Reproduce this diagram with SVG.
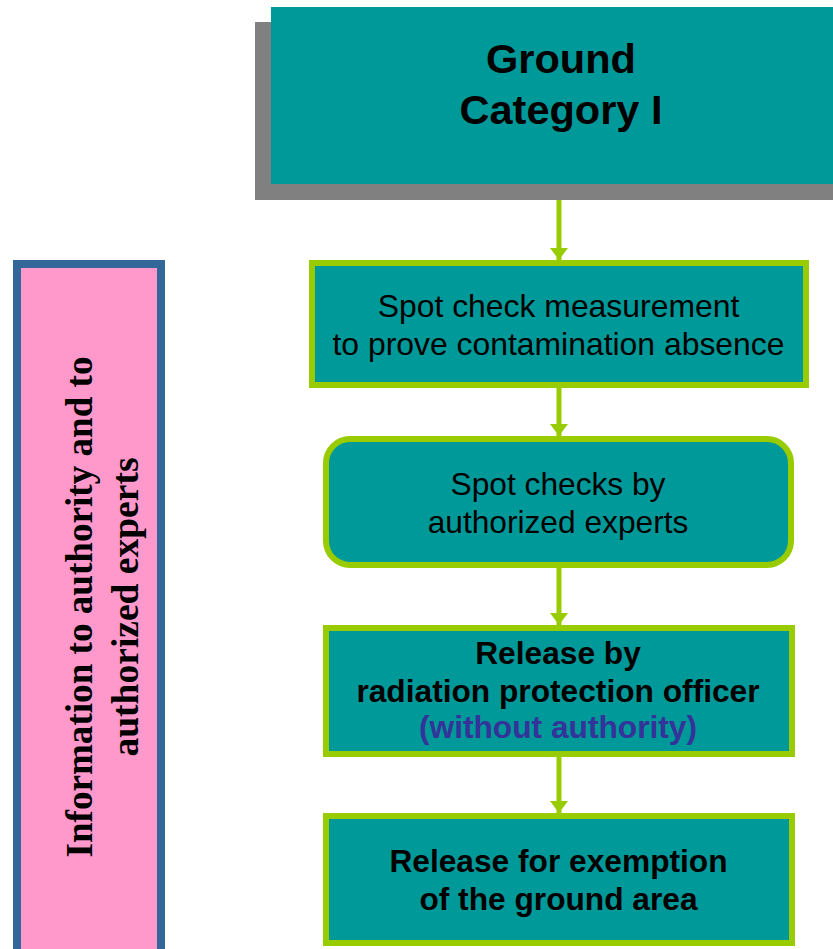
<svg xmlns="http://www.w3.org/2000/svg" width="833" height="949" viewBox="0 0 833 949">
<defs>
<style>
.box{fill:#009999;stroke:#99CC00;stroke-width:6}
.t{font-family:"Liberation Sans",Arial,sans-serif;font-size:31.7px;fill:#000;text-anchor:middle}
.b{font-weight:bold}
.conn{stroke:#99CC00;stroke-width:5;fill:none}
.side{font-family:"Liberation Serif","Times New Roman",serif;font-weight:bold;font-size:38px;fill:#000;text-anchor:middle}
</style>
<marker id="ah" viewBox="0 0 12 18" refX="12" refY="9" markerWidth="12" markerHeight="18" markerUnits="userSpaceOnUse" orient="auto">
<path d="M0,0 L12,9 L0,18 Z" fill="#99CC00"/>
</marker>
</defs>
<rect width="833" height="949" fill="#fff"/>
<g id="side-note">
<rect x="17" y="264" width="144" height="700" fill="#FF99CC" stroke="#336699" stroke-width="8"/>
<text class="side" transform="translate(92,607) rotate(-90)" textLength="501" lengthAdjust="spacingAndGlyphs">Information to authority and to</text>
<text class="side" transform="translate(138,607) rotate(-90)" textLength="299" lengthAdjust="spacingAndGlyphs">authorized experts</text>
</g>
<g id="connectors">
<line class="conn" x1="559" y1="200" x2="559" y2="260" marker-end="url(#ah)"/>
<line class="conn" x1="559" y1="388" x2="559" y2="436" marker-end="url(#ah)"/>
<line class="conn" x1="559" y1="568" x2="559" y2="625" marker-end="url(#ah)"/>
<line class="conn" x1="559" y1="757" x2="559" y2="813" marker-end="url(#ah)"/>
</g>
<g id="ground-category">
<rect x="255" y="22" width="578" height="178" fill="#808080"/>
<rect x="271" y="7" width="562" height="177" fill="#009999"/>
<text class="t b" x="561" y="73" style="font-size:41.5px">Ground</text>
<text class="t b" x="561" y="124" style="font-size:41.5px">Category I</text>
</g>
<g id="spot-check-measurement">
<rect class="box" x="312" y="263" width="494" height="122"/>
<text class="t" x="558.5" y="317" style="font-size:31.9px">Spot check measurement</text>
<text class="t" x="558.5" y="355" style="font-size:31.9px">to prove contamination absence</text>
</g>
<g id="spot-checks-experts">
<rect class="box" x="326" y="439" width="465" height="126" rx="24" ry="24"/>
<text class="t" x="558" y="495">Spot checks by</text>
<text class="t" x="558" y="533">authorized experts</text>
</g>
<g id="release-rpo">
<rect class="box" x="326" y="628" width="466" height="126"/>
<text class="t b" x="558" y="664">Release by</text>
<text class="t b" x="558" y="702">radiation protection officer</text>
<text class="t b" x="558" y="738" style="fill:#333399">(without authority)</text>
</g>
<g id="release-exemption">
<rect class="box" x="326" y="816" width="466" height="127"/>
<text class="t b" x="558.5" y="872">Release for exemption</text>
<text class="t b" x="558.5" y="910">of the ground area</text>
</g>
</svg>
